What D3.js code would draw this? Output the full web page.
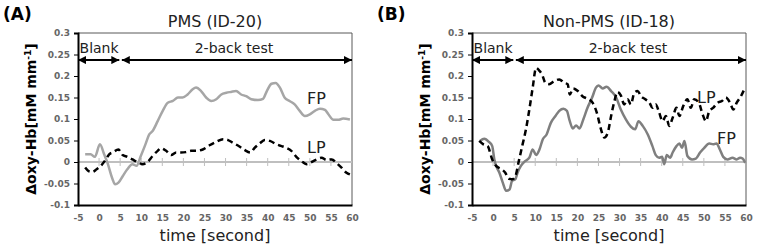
<!DOCTYPE html>
<html>
<head>
<meta charset="utf-8">
<script src="https://cdn.jsdelivr.net/npm/d3@7"></script>
<style>
  body { margin: 0; background: #fff; }
  svg { display: block; font-family: "DejaVu Sans", Verdana, sans-serif; }
</style>
</head>
<body>
<svg id="chart" width="765" height="247"></svg>
<script>
// --- data ---
const xTicks = [-5, 0, 5, 10, 15, 20, 25, 30, 35, 40, 45, 50, 55, 60];
const yTicks = [-0.1, -0.05, 0, 0.05, 0.1, 0.15, 0.2, 0.25, 0.3];

const fpA_t = [-3.3, -2, -1, 0.2, 1.2, 2, 3.2, 3.8, 4.6, 5.6, 6.7, 7.9, 8.9, 9.9, 11, 11.9, 12.7, 13.9, 15.1, 16.3, 17.5, 18.7, 19.8, 21, 22.2, 23, 24.2, 25.4, 26.6, 27.8, 29, 30.2, 31.3, 32.5, 33.7, 34.9, 36.1, 37.7, 38.9, 39.8, 40.9, 41.9, 42.9, 44, 45.2, 46.4, 47.6, 48.8, 50, 51.2, 52.4, 53.6, 54.4, 55.6, 56.7, 57.9, 59.5];
const fpA_v = [0.018, 0.018, 0.012, 0.041, 0.018, -0.002, -0.04, -0.052, -0.048, -0.033, -0.017, -0.005, -0.009, 0.014, 0.041, 0.064, 0.072, 0.095, 0.119, 0.138, 0.142, 0.15, 0.15, 0.157, 0.169, 0.173, 0.165, 0.15, 0.142, 0.146, 0.157, 0.161, 0.163, 0.165, 0.157, 0.153, 0.146, 0.144, 0.147, 0.165, 0.182, 0.184, 0.173, 0.15, 0.142, 0.134, 0.119, 0.107, 0.111, 0.119, 0.124, 0.121, 0.111, 0.098, 0.098, 0.101, 0.099];

const lpA_t = [-3.3, -2.5, -1.6, -0.6, 0.4, 1.6, 2.4, 3.2, 4.6, 5.6, 6.7, 7.9, 9.1, 10.3, 11.5, 12.7, 13.9, 14.7, 15.9, 17.1, 18.3, 19.4, 20.6, 21.8, 23, 24.6, 26.2, 27.8, 29.4, 30.6, 31.7, 33.3, 34.5, 35.9, 36.9, 38.1, 39.3, 40.5, 42.1, 43.3, 44.4, 45.6, 46.8, 48, 49.2, 50.4, 51.6, 52.8, 53.9, 55.2, 56.3, 57.5, 58.7, 59.5];
const lpA_v = [-0.013, -0.021, -0.023, -0.017, -0.009, 0.006, 0.018, 0.022, 0.029, 0.016, 0.012, 0.006, 0, -0.005, 0, 0.014, 0.026, 0.032, 0.026, 0.016, 0.022, 0.022, 0.023, 0.026, 0.026, 0.029, 0.039, 0.047, 0.053, 0.051, 0.045, 0.036, 0.028, 0.022, 0.033, 0.043, 0.051, 0.049, 0.041, 0.037, 0.033, 0.026, 0.012, 0.002, -0.005, 0, 0.006, 0.01, 0.005, 0.006, -0.002, -0.013, -0.025, -0.029];

const fpB_t = [-3.1, -2.1, -1, -0.2, 0.3, 0.9, 1.5, 2.3, 3.1, 3.9, 4.5, 5.3, 5.8, 6.6, 7.6, 8.6, 9.4, 10.2, 11, 11.8, 12.7, 13.7, 14.8, 15.7, 16.7, 17.5, 18.2, 18.9, 19.7, 20.5, 21.4, 22.4, 23.5, 24.4, 25, 26, 26.9, 28, 29.2, 30.3, 31.5, 32.7, 33.7, 34.5, 35.5, 36.7, 37.8, 38.6, 39.4, 40.1, 40.6, 41.2, 42, 42.6, 43.5, 44.2, 44.8, 45.4, 46.1, 47.2, 48.1, 49.1, 50.1, 51.3, 52.2, 53, 53.8, 54.6, 55.6, 56.8, 57.8, 58.6, 59.2, 59.8];
const fpB_v = [0.049, 0.054, 0.047, 0.037, 0.006, -0.013, -0.025, -0.048, -0.067, -0.064, -0.044, -0.04, -0.025, -0.009, 0.002, 0.01, 0.029, 0.016, 0.029, 0.053, 0.064, 0.091, 0.107, 0.119, 0.124, 0.119, 0.095, 0.078, 0.085, 0.078, 0.099, 0.126, 0.15, 0.173, 0.178, 0.171, 0.175, 0.165, 0.15, 0.122, 0.099, 0.082, 0.076, 0.095, 0.084, 0.064, 0.037, 0.016, 0.01, 0.012, -0.005, 0.016, 0.01, 0.022, 0.037, 0.043, 0.033, 0.049, 0.014, 0.006, 0.008, 0.022, 0.033, 0.043, 0.041, 0.043, 0.029, 0.012, 0.006, 0.01, 0.006, 0.01, 0.008, -0.002];

const lpB_t = [-3.3, -2.3, -1.3, -0.2, 0.7, 1.9, 2.9, 3.7, 4.6, 5.3, 6.1, 7, 7.8, 8.6, 9.4, 10.2, 11, 11.6, 12.4, 13.3, 14.5, 15.7, 16.9, 17.7, 18.2, 19, 20.1, 21.2, 22.4, 23.6, 24.6, 25.6, 26.4, 27.2, 28, 28.8, 29.5, 30.3, 31.1, 31.9, 32.7, 33.5, 34.3, 35.1, 36.1, 37.1, 37.8, 38.6, 39.4, 40.2, 41, 41.8, 42.6, 43.5, 44.2, 45.1, 46.1, 46.9, 47.7, 48.8, 49.7, 50.5, 51.3, 52.2, 53.3, 54.3, 55.2, 56.2, 57, 57.8, 58.8, 59.6];
const lpB_v = [0.049, 0.041, 0.037, 0.006, -0.009, -0.016, -0.025, -0.039, -0.04, -0.033, 0.002, 0.041, 0.076, 0.122, 0.173, 0.219, 0.212, 0.204, 0.184, 0.181, 0.188, 0.192, 0.184, 0.181, 0.157, 0.171, 0.165, 0.153, 0.147, 0.138, 0.115, 0.076, 0.057, 0.068, 0.107, 0.142, 0.163, 0.155, 0.134, 0.146, 0.134, 0.161, 0.165, 0.153, 0.146, 0.138, 0.126, 0.134, 0.115, 0.095, 0.107, 0.084, 0.103, 0.126, 0.107, 0.13, 0.146, 0.126, 0.146, 0.138, 0.111, 0.095, 0.119, 0.126, 0.138, 0.142, 0.15, 0.138, 0.122, 0.138, 0.153, 0.169];

const phases = [
  {name: "Blank", from: -5, to: 4.8, labelAt: 0},
  {name: "2-back test", from: 5.4, to: 60, labelAt: 32}
];

const zip = (ts, vs) => ts.map((t, i) => ({t: t, v: vs[i]}));

const panels = [
  {tag: "(A)", tagX: 3, left: 78, title: "PMS (ID-20)",
   series: [
     {name: "FP", data: zip(fpA_t, fpA_v), color: "#a6a6a6", dash: null, label: [307, 104]},
     {name: "LP", data: zip(lpA_t, lpA_v), color: "#000", dash: "6,4", label: [307, 153]}
   ]},
  {tag: "(B)", tagX: 377, left: 472, title: "Non-PMS (ID-18)",
   series: [
     {name: "FP", data: zip(fpB_t, fpB_v), color: "#7f7f7f", dash: null, label: [717, 144]},
     {name: "LP", data: zip(lpB_t, lpB_v), color: "#000", dash: "6,4", label: [697, 103]}
   ]}
];

const svg = d3.select("#chart");
const plotW = 274, plotTop = 33, plotBottom = 205;
const fmtTick = d => String(+d.toFixed(2));   // plain hyphen for negatives, like the source

svg.append("defs").append("marker")
  .attr("id", "arrow")
  .attr("viewBox", "0 0 10 10")
  .attr("refX", 10).attr("refY", 5)
  .attr("markerWidth", 4).attr("markerHeight", 4)
  .attr("orient", "auto-start-reverse")
  .append("path").attr("d", "M0,0 L10,5 L0,10 z").attr("fill", "#000");

panels.forEach(p => {
  const x = d3.scaleLinear().domain([-5, 60]).range([p.left, p.left + plotW]);
  const y = d3.scaleLinear().domain([-0.1, 0.3]).range([plotBottom, plotTop]);
  const g = svg.append("g");

  // panel tag and title
  svg.append("text").attr("x", p.tagX).attr("y", 20)
    .attr("font-size", 17).attr("font-weight", "bold").text(p.tag);
  g.append("text").attr("x", x(27.5)).attr("y", 27)
    .attr("text-anchor", "middle").attr("font-size", 16).attr("fill", "#222").text(p.title);

  // frame (top & right)
  g.append("path")
    .attr("d", `M${x(-5)},${y(0.3)}H${x(60)}V${y(-0.1)}`)
    .attr("fill", "none").attr("stroke", "#595959").attr("stroke-width", 1);

  // zero line with cross ticks
  g.append("line").attr("x1", x(-5)).attr("x2", x(60)).attr("y1", y(0)).attr("y2", y(0))
    .attr("stroke", "#bfbfbf").attr("stroke-width", 2);
  g.selectAll(".zt").data(xTicks.slice(1, -1)).join("line")
    .attr("x1", d => x(d)).attr("x2", d => x(d))
    .attr("y1", y(0) - 4).attr("y2", y(0) + 4)
    .attr("stroke", "#bfbfbf").attr("stroke-width", 1);

  // y axis
  const yAxis = g.append("g").attr("transform", `translate(${x(-5)},0)`)
    .call(d3.axisLeft(y).tickValues(yTicks).tickSize(4).tickPadding(4).tickFormat(fmtTick));
  yAxis.select(".domain").attr("stroke", "#000").attr("stroke-width", 2);
  yAxis.selectAll(".tick line").attr("stroke", "#000");
  yAxis.selectAll("text").attr("font-size", 9).attr("font-weight", "bold").attr("fill", "#666")
    .attr("font-family", "DejaVu Sans, sans-serif");

  // x axis
  const xAxis = g.append("g").attr("transform", `translate(0,${plotBottom})`)
    .call(d3.axisBottom(x).tickValues(xTicks).tickSize(0).tickPadding(10).tickFormat(fmtTick));
  xAxis.select(".domain").attr("stroke", "#000").attr("stroke-width", 2);
  xAxis.selectAll("text").attr("font-size", 9).attr("font-weight", "bold").attr("fill", "#666")
    .attr("font-family", "DejaVu Sans, sans-serif");

  // axis titles
  g.append("text").attr("x", x(27.5)).attr("y", 241)
    .attr("text-anchor", "middle").attr("font-size", 16).attr("fill", "#222")
    .text("time [second]");
  const yt = g.append("text")
    .attr("transform", `translate(${p.left - 42},${(plotTop + plotBottom) / 2}) rotate(-90)`)
    .attr("text-anchor", "middle").attr("font-size", 14).attr("font-weight", "bold");
  yt.append("tspan").text("Δoxy-Hb[mM mm");
  yt.append("tspan").attr("dy", -5).attr("font-size", 9).text("-1");
  yt.append("tspan").attr("dy", 5).text("]");

  // phase arrows
  phases.forEach(ph => {
    g.append("line").attr("x1", x(ph.from)).attr("x2", x(ph.to))
      .attr("y1", y(0.237)).attr("y2", y(0.237))
      .attr("stroke", "#000").attr("stroke-width", 2)
      .attr("marker-start", "url(#arrow)").attr("marker-end", "url(#arrow)");
    g.append("text").attr("x", x(ph.labelAt)).attr("y", y(0.237) - 7)
      .attr("text-anchor", "middle").attr("font-size", 14).attr("fill", "#222").text(ph.name);
  });

  // series
  const line = d3.line().x(d => x(d.t)).y(d => y(d.v)).curve(d3.curveMonotoneX);
  p.series.forEach(s => {
    g.append("path").datum(s.data).attr("d", line)
      .attr("fill", "none").attr("stroke", s.color).attr("stroke-width", 2.5)
      .attr("stroke-dasharray", s.dash);
    g.append("text").attr("x", s.label[0]).attr("y", s.label[1])
      .attr("font-size", 16).attr("fill", "#222").text(s.name);
  });
});
</script>
</body>
</html>
